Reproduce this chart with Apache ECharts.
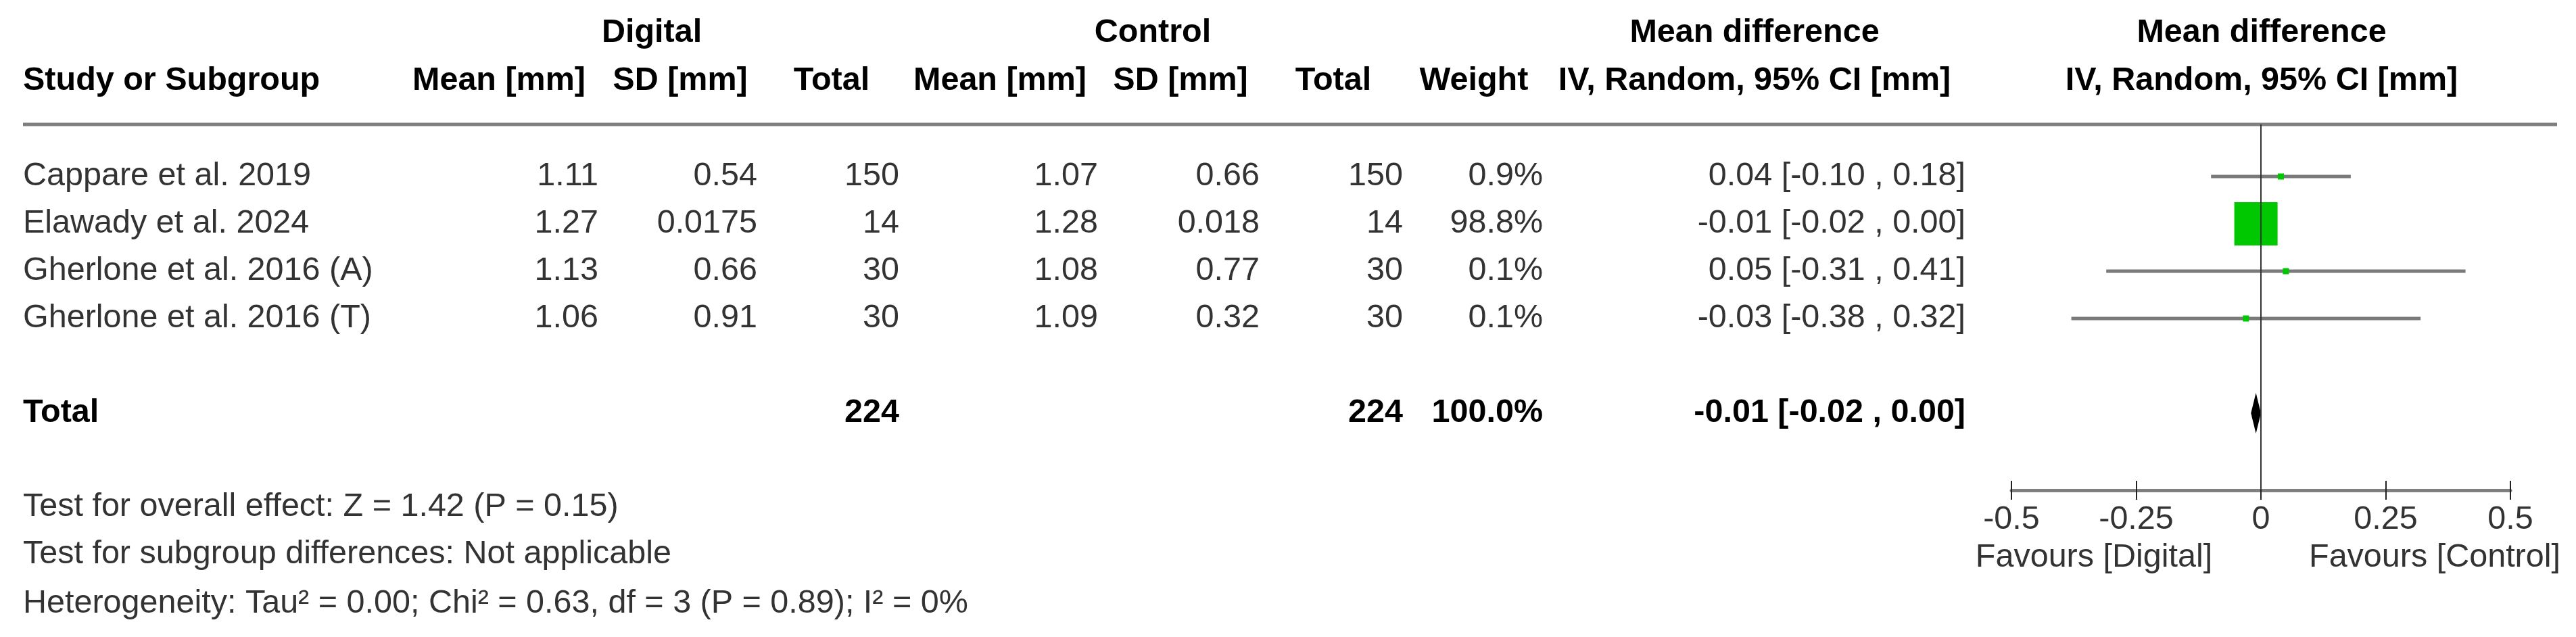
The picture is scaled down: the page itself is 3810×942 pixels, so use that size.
<!DOCTYPE html>
<html>
<head>
<meta charset="utf-8">
<title>Forest plot</title>
<script src="https://cdn.jsdelivr.net/npm/echarts@6/dist/echarts.min.js"></script>
<style>
html, body { margin: 0; padding: 0; background: #fff; }
#forest { width: 3810px; height: 942px; }
</style>
</head>
<body>
<div id="forest"></div>
<script>
// study data
var studies = ['Cappare et al. 2019', 'Elawady et al. 2024', 'Gherlone et al. 2016 (A)', 'Gherlone et al. 2016 (T)'];
var digitalMean = [1.11, 1.27, 1.13, 1.06];
var digitalSD = [0.54, 0.0175, 0.66, 0.91];
var digitalN = [150, 14, 30, 30];
var controlMean = [1.07, 1.28, 1.08, 1.09];
var controlSD = [0.66, 0.018, 0.77, 0.32];
var controlN = [150, 14, 30, 30];
var weight = [0.9, 98.8, 0.1, 0.1];
var meanDiff = [0.04, -0.01, 0.05, -0.03];
var ciLow = [-0.10, -0.02, -0.31, -0.38];
var ciHigh = [0.18, 0.00, 0.41, 0.32];

// pooled
var totalDigitalN = 224;
var totalControlN = 224;
var totalWeight = 100.0;
var pooled = [-0.01, -0.02, 0.00];

var axisTicks = [-0.5, -0.25, 0, 0.25, 0.5];
var favourLabels = ['Favours [Digital]', 'Favours [Control]'];
var footerLines = [
    'Test for overall effect: Z = 1.42 (P = 0.15)',
    'Test for subgroup differences: Not applicable',
    'Heterogeneity: Tau\u00b2 = 0.00; Chi\u00b2 = 0.63, df = 3 (P = 0.89); I\u00b2 = 0%'
];

// layout (pixels / row units)
var W = 3810, H = 942;
var firstRowPx = 261, rowGap = 70;
var plotLeft = 2975, plotWidth = 738, plotTop = 184, plotBottom = 725;
var FAMILY = '"Liberation Sans", Arial, sans-serif';
var FONT = '48.5px ' + FAMILY;
var BOLD = 'bold ' + FONT;
var col = { name: 34, dMean: 885, dSD: 1120, dN: 1330, cMean: 1624, cSD: 1863, cN: 2075, weight: 2282, ci: 2907 };
var totalRow = 5;

function pxToRow(px) {
    return (px - firstRowPx) / rowGap;
}

function fmtCI(m, lo, hi) {
    return m.toFixed(2) + ' [' + lo.toFixed(2) + ' , ' + hi.toFixed(2) + ']';
}

function textSeries(items, align, font, color) {
    return {
        type: 'custom',
        xAxisIndex: 0,
        yAxisIndex: 0,
        silent: true,
        data: items.map(function (it) { return [it[0], it[1]]; }),
        renderItem: function (params, api) {
            var p = api.coord([api.value(0), api.value(1)]);
            return {
                type: 'text',
                x: p[0],
                y: p[1],
                style: {
                    text: items[params.dataIndex][2],
                    align: align,
                    verticalAlign: 'middle',
                    font: font,
                    fill: color
                }
            };
        }
    };
}

var h1 = pxToRow(49), h2 = pxToRow(120);

var headCenter = [
    [964, h1, 'Digital'], [1705, h1, 'Control'], [2595, h1, 'Mean difference'], [3345, h1, 'Mean difference'],
    [738, h2, 'Mean [mm]'], [1006, h2, 'SD [mm]'], [1230, h2, 'Total'],
    [1479, h2, 'Mean [mm]'], [1746, h2, 'SD [mm]'], [1972, h2, 'Total'],
    [2180, h2, 'Weight'], [2595, h2, 'IV, Random, 95% CI [mm]'], [3345, h2, 'IV, Random, 95% CI [mm]']
];
var headLeft = [[col.name, h2, 'Study or Subgroup'], [col.name, totalRow, 'Total']];
var boldRight = [
    [col.dN, totalRow, String(totalDigitalN)],
    [col.cN, totalRow, String(totalControlN)],
    [col.weight, totalRow, totalWeight.toFixed(1) + '%'],
    [col.ci, totalRow, fmtCI(pooled[0], pooled[1], pooled[2])]
];

var rowLeft = [], rowRight = [];
studies.forEach(function (s, i) {
    rowLeft.push([col.name, i, s]);
    rowRight.push([col.dMean, i, String(digitalMean[i])]);
    rowRight.push([col.dSD, i, String(digitalSD[i])]);
    rowRight.push([col.dN, i, String(digitalN[i])]);
    rowRight.push([col.cMean, i, String(controlMean[i])]);
    rowRight.push([col.cSD, i, String(controlSD[i])]);
    rowRight.push([col.cN, i, String(controlN[i])]);
    rowRight.push([col.weight, i, weight[i].toFixed(1) + '%']);
    rowRight.push([col.ci, i, fmtCI(meanDiff[i], ciLow[i], ciHigh[i])]);
});

var footRows = [pxToRow(750), pxToRow(820), pxToRow(893)];
footerLines.forEach(function (t, i) {
    rowLeft.push([col.name, footRows[i], t]);
});
var favRow = pxToRow(825);
var favCenter = [[3097, favRow, favourLabels[0]], [3601, favRow, favourLabels[1]]];

var forestData = studies.map(function (s, i) {
    return [meanDiff[i], ciLow[i], ciHigh[i], i, weight[i]];
});

var mychart = echarts.init(document.getElementById('forest'));
var option = {
    animation: false,
    backgroundColor: '#fff',
    grid: [
        { left: 0, top: 0, width: W, height: H },
        { left: plotLeft, top: plotTop, width: plotWidth, height: plotBottom - plotTop }
    ],
    xAxis: [
        { gridIndex: 0, type: 'value', min: 0, max: W, show: false },
        {
            gridIndex: 1, type: 'value', position: 'bottom', offset: 0,
            min: axisTicks[0], max: axisTicks[axisTicks.length - 1], interval: axisTicks[1] - axisTicks[0],
            splitLine: { show: false },
            axisLine: { onZero: false, lineStyle: { color: '#7f7f7f', width: 5 } },
            axisTick: { length: 14, lineStyle: { color: '#222', width: 2 } },
            axisLabel: { margin: 19, fontSize: 48.5, color: '#333', fontFamily: FAMILY }
        },
        {
            gridIndex: 1, type: 'value', position: 'bottom', offset: 0,
            min: axisTicks[0], max: axisTicks[axisTicks.length - 1], interval: axisTicks[1] - axisTicks[0],
            splitLine: { show: false },
            axisLine: { show: false, onZero: false },
            axisTick: { inside: true, length: 14, lineStyle: { color: '#222', width: 2 } },
            axisLabel: { show: false }
        }
    ],
    yAxis: [
        { gridIndex: 0, type: 'value', inverse: true, min: pxToRow(0), max: pxToRow(H), show: false },
        { gridIndex: 1, type: 'value', inverse: true, min: pxToRow(plotTop), max: pxToRow(plotBottom), show: false }
    ],
    series: [
        // rule under the header
        {
            type: 'custom', xAxisIndex: 0, yAxisIndex: 0, silent: true,
            data: [[col.name, pxToRow(plotTop)]],
            renderItem: function (params, api) {
                var a = api.coord([api.value(0), api.value(1)]);
                var b = api.coord([3782, api.value(1)]);
                return { type: 'line', shape: { x1: a[0], y1: a[1], x2: b[0], y2: b[1] },
                    style: { stroke: '#7f7f7f', lineWidth: 5 } };
            }
        },
        textSeries(headCenter, 'center', BOLD, '#000'),
        textSeries(headLeft, 'left', BOLD, '#000'),
        textSeries(boldRight, 'right', BOLD, '#000'),
        textSeries(rowLeft, 'left', FONT, '#333'),
        textSeries(rowRight, 'right', FONT, '#333'),
        textSeries(favCenter, 'center', FONT, '#333'),
        // study CIs and weight squares
        {
            type: 'custom', xAxisIndex: 1, yAxisIndex: 1, silent: true, z: 2,
            data: forestData,
            renderItem: function (params, api) {
                var y = api.value(3);
                var c = api.coord([api.value(0), y]);
                var lo = api.coord([api.value(1), y]);
                var hi = api.coord([api.value(2), y]);
                var size = Math.max(9, 64 * Math.sqrt(api.value(4) / 98.8));
                return {
                    type: 'group',
                    children: [
                        { type: 'line', shape: { x1: lo[0], y1: lo[1], x2: hi[0], y2: hi[1] },
                            style: { stroke: '#7a7a7a', lineWidth: 5 } },
                        { type: 'rect', shape: { x: c[0] - size / 2, y: c[1] - size / 2, width: size, height: size },
                            style: { fill: '#00c800' } }
                    ]
                };
            }
        },
        // pooled diamond
        {
            type: 'custom', xAxisIndex: 1, yAxisIndex: 1, silent: true, z: 3,
            data: [[pooled[0], pooled[1], pooled[2], totalRow]],
            renderItem: function (params, api) {
                var y = api.value(3);
                var c = api.coord([api.value(0), y]);
                var lo = api.coord([api.value(1), y]);
                var hi = api.coord([api.value(2), y]);
                return {
                    type: 'polygon',
                    shape: { points: [[lo[0], c[1]], [c[0], c[1] - 30], [hi[0], c[1]], [c[0], c[1] + 30]] },
                    style: { fill: '#000' }
                };
            }
        },
        // line of no effect
        {
            type: 'line', xAxisIndex: 1, yAxisIndex: 1, data: [], z: 10,
            markLine: {
                silent: true,
                symbol: ['none', 'none'],
                label: { show: false },
                lineStyle: { color: '#333', width: 2, type: 'solid' },
                data: [{ xAxis: 0 }]
            }
        }
    ]
};
mychart.setOption(option);
</script>
</body>
</html>
